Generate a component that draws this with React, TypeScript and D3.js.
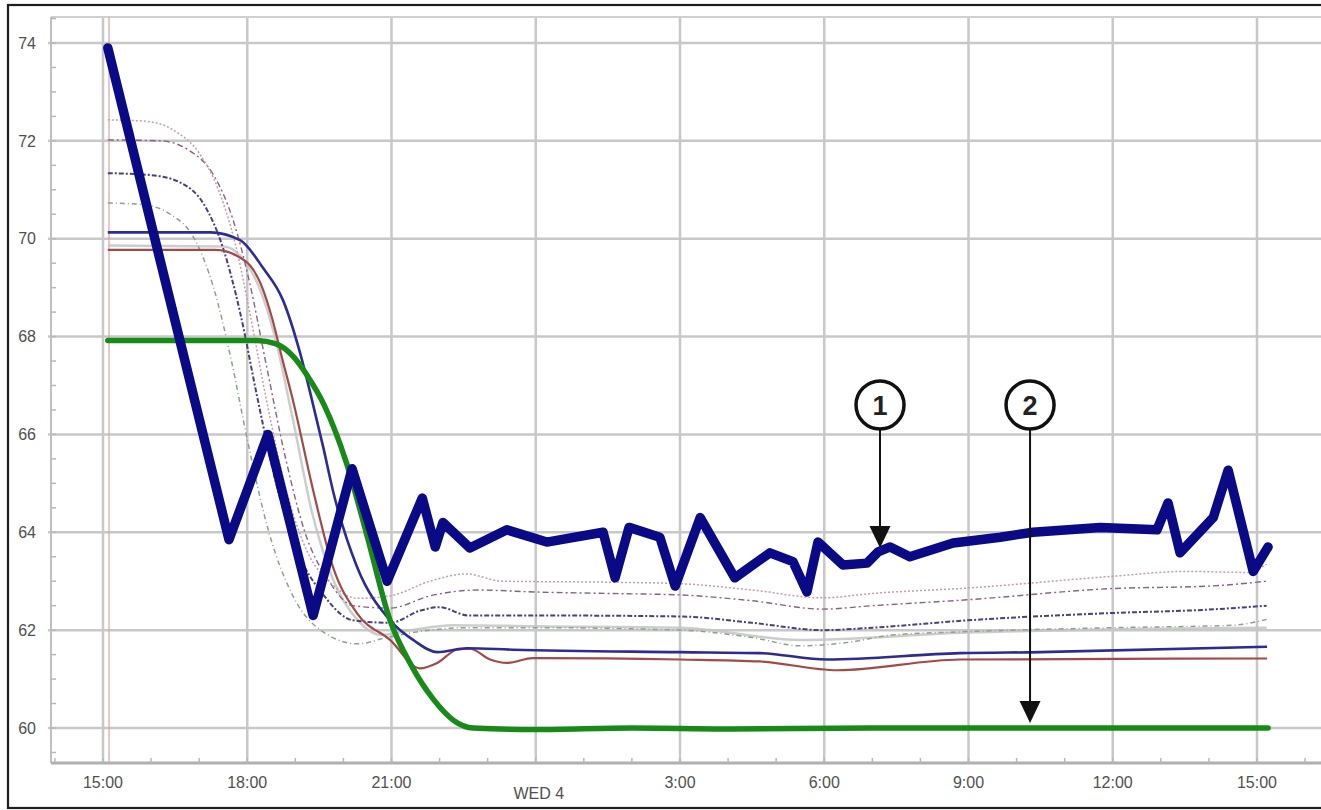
import React from 'react';
import * as d3 from 'd3';

// hours after 15:00 on the first day, values in degrees
const heavyBlue: [number, number][] = [
  [0.1, 73.9], [2.62, 63.85], [3.43, 66.0], [4.37, 62.3], [5.18, 65.3], [5.91, 63.0],
  [6.64, 64.7], [6.91, 63.7], [7.07, 64.2], [7.63, 63.68], [8.4, 64.05], [9.23, 63.8],
  [10.4, 64.0], [10.65, 63.07], [10.94, 64.1], [11.58, 63.9], [11.9, 62.9], [12.42, 64.3],
  [13.14, 63.07], [13.87, 63.58], [14.35, 63.4], [14.64, 62.78], [14.87, 63.8], [15.39, 63.33],
  [15.89, 63.37], [16.12, 63.6], [16.37, 63.7], [16.78, 63.5], [17.68, 63.78], [18.66, 63.9],
  [19.34, 64.0], [20.74, 64.1], [21.92, 64.05], [22.15, 64.6], [22.4, 63.58], [23.09, 64.3],
  [23.4, 65.27], [23.92, 63.2], [24.23, 63.7],
];

const greenLine: [number, number][] = [
  [0.1, 67.92], [3.2, 67.92], [3.6, 67.85], [3.95, 67.6], [4.25, 67.2], [4.6, 66.6],
  [5.07, 65.4], [5.5, 63.9], [5.97, 62.2], [6.4, 61.3], [6.86, 60.6], [7.3, 60.15],
  [7.7, 60.0], [9.0, 59.97], [11.0, 60.0], [13.0, 59.98], [16.0, 60.0], [20.0, 60.0], [24.23, 60.0],
];

const blueLine: [number, number][] = [
  [0.1, 70.13], [2.23, 70.13], [2.85, 69.97], [3.33, 69.4], [3.74, 68.75], [4.1, 67.66],
  [4.31, 66.85], [4.58, 65.74], [4.78, 64.86], [5.28, 63.3], [5.97, 62.2], [6.45, 61.8],
  [6.95, 61.55], [7.57, 61.63], [8.53, 61.6], [12.0, 61.55], [13.66, 61.53], [15.06, 61.4],
  [17.82, 61.53], [19.49, 61.55], [24.21, 61.66],
];

const redLine: [number, number][] = [
  [0.1, 69.77], [2.33, 69.77], [2.95, 69.55], [3.27, 69.1], [3.51, 68.4], [3.74, 67.5],
  [3.95, 66.7], [4.37, 64.86], [4.78, 63.3], [5.28, 62.35], [5.97, 61.8], [6.59, 61.22],
  [6.95, 61.33], [7.36, 61.6], [7.63, 61.62], [8.05, 61.4], [8.4, 61.33], [8.94, 61.43],
  [12.0, 61.4], [13.66, 61.36], [15.27, 61.18], [17.82, 61.4], [24.21, 61.42],
];

const dottedPink: [number, number][] = [
  [0.1, 72.43], [0.9, 72.4], [1.5, 72.2], [2.0, 71.75], [2.4, 71.0], [2.75, 69.9], [3.05, 68.5],
  [3.4, 66.7], [3.8, 64.9], [4.25, 63.6], [4.75, 62.95], [5.3, 62.65], [5.97, 62.7], [6.8, 63.0],
  [7.55, 63.15], [8.3, 63.0], [10.5, 62.98], [12.0, 62.95], [13.5, 62.82], [14.97, 62.66],
  [16.0, 62.75], [17.97, 62.86], [20.99, 63.1], [22.5, 63.2], [23.8, 63.18], [24.2, 63.35],
];

const dashDotMauve: [number, number][] = [
  [0.1, 72.02], [1.2, 72.0], [1.8, 71.8], [2.3, 71.3], [2.7, 70.4], [3.05, 69.1], [3.4, 67.4],
  [3.8, 65.5], [4.2, 64.0], [4.7, 63.0], [5.2, 62.5], [5.97, 62.45], [6.8, 62.7], [7.8, 62.82],
  [8.98, 62.78], [10.5, 62.75], [12.0, 62.72], [13.5, 62.6], [14.97, 62.43], [16.0, 62.5],
  [17.97, 62.62], [20.99, 62.85], [23.0, 62.9], [24.2, 63.0],
];

const dashDotPurple: [number, number][] = [
  [0.1, 71.34], [1.0, 71.3], [1.6, 71.15], [2.1, 70.7], [2.5, 69.8], [2.85, 68.5], [3.2, 66.8],
  [3.6, 65.0], [4.05, 63.6], [4.6, 62.7], [5.2, 62.2], [5.97, 62.15], [6.6, 62.4], [7.0, 62.47],
  [7.6, 62.3], [8.98, 62.3], [12.0, 62.28], [13.5, 62.15], [14.97, 62.0], [16.0, 62.05],
  [17.97, 62.2], [20.99, 62.35], [23.0, 62.42], [24.2, 62.5],
];

const dashDotSage: [number, number][] = [
  [0.1, 70.73], [0.8, 70.7], [1.4, 70.5], [1.9, 70.0], [2.3, 69.0], [2.65, 67.6], [3.0, 65.9],
  [3.45, 64.0], [3.95, 62.7], [4.6, 61.95], [5.3, 61.72], [5.9, 61.85], [6.8, 62.0], [7.5, 62.05],
  [8.98, 62.05], [12.0, 62.0], [13.5, 61.85], [14.5, 61.68], [15.5, 61.75], [16.4, 61.9],
  [17.97, 61.97], [20.99, 62.05], [23.5, 62.1], [24.2, 62.22],
];

const greyLine: [number, number][] = [
  [0.1, 69.86], [2.5, 69.84], [2.9, 69.6], [3.25, 69.0], [3.6, 67.9], [3.95, 66.3], [4.35, 64.4],
  [4.8, 63.0], [5.3, 62.2], [5.8, 61.9], [6.4, 62.0], [7.3, 62.1], [8.98, 62.08], [12.0, 62.05],
  [14.5, 61.8], [17.97, 61.95], [24.2, 62.05],
];

const xTickHours = [0, 3, 6, 9, 12, 15, 18, 21, 24];
const xTickLabels = ['15:00', '18:00', '21:00', 'WED 4', '3:00', '6:00', '9:00', '12:00', '15:00'];
const yTickValues = [60, 62, 64, 66, 68, 70, 72, 74];
const startMarkerHour = 0.125;

const callouts = [
  { label: '1', hour: 16.16, circleValue: 66.6, tipValue: 63.68 },
  { label: '2', hour: 19.28, circleValue: 66.6, tipValue: 60.1 },
];

const W = 1321;
const H = 810;

const x = d3.scaleLinear().domain([0, 24]).range([103, 1257]);
const y = d3.scaleLinear().domain([60, 74]).range([728, 43]);

const plotLeft = 51;
const plotTop = 17;
const plotBottom = 763;
const plotRight = W;

const smooth = d3
  .line<[number, number]>()
  .x((d) => x(d[0]))
  .y((d) => y(d[1]))
  .curve(d3.curveMonotoneX);

const jagged = d3
  .line<[number, number]>()
  .x((d) => x(d[0]))
  .y((d) => y(d[1]));

const font = '"Liberation Sans", Arial, sans-serif';

export default function App() {
  const minorY = d3.range(59.5, 74.51, 0.5);
  const minorX = d3.range(-1, 26, 1);

  return (
    <svg
      width={W}
      height={H}
      style={{ position: 'absolute', left: 0, top: 0, background: '#fff' }}
      fontFamily={font}
    >
      <rect x={0} y={0} width={W} height={H} fill="#fff" />

      {/* grid */}
      {yTickValues.map((v) => (
        <line key={'gy' + v} x1={plotLeft - 3} x2={plotRight} y1={y(v)} y2={y(v)} stroke="#c8c8c8" strokeWidth={2.5} />
      ))}
      {xTickHours.map((h) => (
        <line key={'gx' + h} x1={x(h)} x2={x(h)} y1={plotTop} y2={plotBottom} stroke="#c8c8c8" strokeWidth={2.5} />
      ))}

      {/* frame of the plot */}
      <line x1={plotLeft} x2={plotRight} y1={plotTop} y2={plotTop} stroke="#d0d0d0" strokeWidth={2} />
      <line x1={plotLeft} x2={plotLeft} y1={plotTop} y2={plotBottom} stroke="#c0c0c0" strokeWidth={2} />
      <line x1={plotLeft} x2={plotRight} y1={plotBottom} y2={plotBottom} stroke="#b0b0b0" strokeWidth={3} />

      {minorY.map((v) => (
        <line key={'my' + v} x1={plotLeft} x2={plotLeft + 5} y1={y(v)} y2={y(v)} stroke="#b8b8b8" strokeWidth={1.5} />
      ))}
      {minorX.map((h) => (
        <line key={'mx' + h} x1={x(h)} x2={x(h)} y1={plotBottom - 5} y2={plotBottom} stroke="#b8b8b8" strokeWidth={1.5} />
      ))}

      {/* start marker */}
      <line
        x1={x(startMarkerHour)}
        x2={x(startMarkerHour)}
        y1={plotTop}
        y2={plotBottom}
        stroke="#e2a0a0"
        strokeWidth={1.2}
      />

      {/* thin lines */}
      <path d={smooth(greyLine) ?? ''} fill="none" stroke="#c4c4c4" strokeWidth={2.5} opacity={0.85} />
      <path d={smooth(dashDotSage) ?? ''} fill="none" stroke="#8aa48a" strokeWidth={1.5} strokeDasharray="5 3 1 3" />
      <path d={smooth(dashDotPurple) ?? ''} fill="none" stroke="#4c3f7c" strokeWidth={2} strokeDasharray="5 2 2 2" />
      <path d={smooth(dashDotMauve) ?? ''} fill="none" stroke="#866486" strokeWidth={1.4} strokeDasharray="6 3 2 3" />
      <path d={smooth(dottedPink) ?? ''} fill="none" stroke="#c49cae" strokeWidth={1.5} strokeDasharray="2 2" />

      {/* main lines */}
      <path d={smooth(redLine) ?? ''} fill="none" stroke="#a24a48" strokeWidth={2.2} />
      <path d={smooth(blueLine) ?? ''} fill="none" stroke="#2c2c94" strokeWidth={2.6} />
      <path d={smooth(greenLine) ?? ''} fill="none" stroke="#178a17" strokeWidth={5.5} strokeLinecap="round" />
      <path
        d={jagged(heavyBlue) ?? ''}
        fill="none"
        stroke="#0a0a86"
        strokeWidth={9.5}
        strokeLinejoin="round"
        strokeLinecap="round"
      />

      {/* callouts */}
      {callouts.map((c) => {
        const cx = x(c.hour);
        const cy = y(c.circleValue);
        const tip = y(c.tipValue);
        const r = 24;
        const headH = 22;
        const headW = 21;
        return (
          <g key={'c' + c.label}>
            <line x1={cx} x2={cx} y1={cy + r} y2={tip - headH + 2} stroke="#111" strokeWidth={2} />
            <path
              d={`M${cx - headW / 2},${tip - headH} L${cx + headW / 2},${tip - headH} L${cx},${tip} Z`}
              fill="#111"
            />
            <circle cx={cx} cy={cy} r={r} fill="#fff" stroke="#111" strokeWidth={3.5} />
            <text x={cx} y={cy} dy="0.36em" textAnchor="middle" fontSize={27} fontWeight="bold" fill="#222">
              {c.label}
            </text>
          </g>
        );
      })}

      {/* axis labels */}
      {yTickValues.map((v) => (
        <text key={'ly' + v} x={36} y={y(v)} dy="0.36em" textAnchor="end" fontSize={16} fill="#505050">
          {v}
        </text>
      ))}
      {xTickHours.map((h, i) => (
        <text
          key={'lx' + h}
          x={x(h) + (i === 3 ? 3 : 0)}
          y={i === 3 ? 799 : 788}
          textAnchor="middle"
          fontSize={16}
          fill="#505050"
        >
          {xTickLabels[i]}
        </text>
      ))}

      {/* outer frame */}
      <rect x={8} y={5} width={W + 10} height={803} fill="none" stroke="#1e1e1e" strokeWidth={2.2} />
    </svg>
  );
}
